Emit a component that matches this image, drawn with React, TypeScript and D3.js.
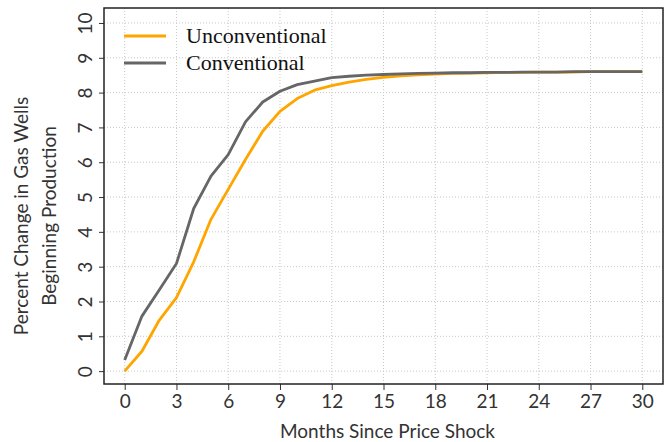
import React, { useEffect, useRef } from 'react';
import * as d3 from 'd3';

const months = [0, 1, 2, 3, 4, 5, 6, 7, 8, 9, 10, 11, 12, 13, 14, 15, 16, 17, 18, 19, 20, 21, 22, 23, 24, 25, 26, 27, 28, 29, 30];
const unconventional = [0, 0.57, 1.46, 2.11, 3.14, 4.36, 5.22, 6.08, 6.89, 7.46, 7.83, 8.07, 8.2, 8.3, 8.38, 8.44, 8.48, 8.51, 8.53, 8.55, 8.56, 8.57, 8.58, 8.58, 8.59, 8.59, 8.59, 8.6, 8.6, 8.6, 8.6];
const conventional = [0.32, 1.58, 2.33, 3.09, 4.67, 5.6, 6.22, 7.16, 7.73, 8.04, 8.23, 8.33, 8.43, 8.47, 8.5, 8.52, 8.54, 8.55, 8.56, 8.57, 8.57, 8.58, 8.58, 8.59, 8.59, 8.59, 8.6, 8.6, 8.6, 8.6, 8.6];
const xTicks = [0, 3, 6, 9, 12, 15, 18, 21, 24, 27, 30];
const yTicks = [0, 1, 2, 3, 4, 5, 6, 7, 8, 9, 10];
const seriesNames = ['Unconventional', 'Conventional'];
const seriesColors = ['#FFA500', '#666666'];

const App = () => {
  const ref = useRef<SVGSVGElement>(null);

  useEffect(() => {
    const svg = d3.select(ref.current);
    svg.selectAll('*').remove();

    const left = 104, right = 663, top = 8, bottom = 384;
    const sans = 'Lato, "Open Sans", sans-serif';

    const x = d3.scaleLinear().domain([-1.2, 31.2]).range([left, right]);
    const y = d3.scaleLinear().domain([-0.37, 10.43]).range([bottom, top]);

    // grid
    const grid = svg.append('g').attr('stroke', '#c8c8c8').attr('stroke-width', 1).attr('stroke-dasharray', '1,2');
    grid.selectAll('line.v').data(xTicks).enter().append('line')
      .attr('x1', d => x(d)).attr('x2', d => x(d)).attr('y1', top).attr('y2', bottom);
    grid.selectAll('line.h').data(yTicks).enter().append('line')
      .attr('x1', left).attr('x2', right).attr('y1', d => y(d)).attr('y2', d => y(d));

    // axes
    const xAxis = svg.append('g')
      .attr('transform', `translate(0,${bottom})`)
      .call(d3.axisBottom(x).tickValues(xTicks).tickSize(6).tickSizeOuter(0).tickPadding(5));
    xAxis.select('.domain').remove();
    xAxis.selectAll('line').attr('stroke', '#333');
    xAxis.selectAll('text').attr('font-family', sans).attr('font-size', 19).attr('fill', '#333');

    const yAxis = svg.append('g')
      .attr('transform', `translate(${left},0)`)
      .call(d3.axisLeft(y).tickValues(yTicks).tickSize(5).tickSizeOuter(0));
    yAxis.select('.domain').remove();
    yAxis.selectAll('line').attr('stroke', '#333');
    yAxis.selectAll('text')
      .attr('font-family', sans).attr('font-size', 19).attr('fill', '#333')
      .attr('text-anchor', 'middle').attr('dy', 0)
      .attr('x', 0).attr('y', 0)
      .attr('transform', 'translate(-12,0) rotate(-90)');

    // frame
    svg.append('rect')
      .attr('x', left).attr('y', top).attr('width', right - left).attr('height', bottom - top)
      .attr('fill', 'none').attr('stroke', '#222').attr('stroke-width', 1.5);

    // lines
    const line = d3.line<number>()
      .x((d, i) => x(months[i]))
      .y(d => y(d));
    [unconventional, conventional].forEach((s, i) => {
      svg.append('path')
        .datum(s)
        .attr('fill', 'none')
        .attr('stroke', seriesColors[i])
        .attr('stroke-width', 2.8)
        .attr('stroke-linejoin', 'round')
        .attr('d', line);
    });

    // legend
    seriesNames.forEach((name, i) => {
      const ly = 36 + i * 27;
      svg.append('line')
        .attr('x1', 124).attr('x2', 166).attr('y1', ly).attr('y2', ly)
        .attr('stroke', seriesColors[i]).attr('stroke-width', 2.8);
      svg.append('text')
        .attr('x', 186).attr('y', ly + 7)
        .attr('font-family', '"Liberation Serif", "Times New Roman", serif')
        .attr('font-size', 22).attr('fill', '#111')
        .text(name);
    });

    // axis titles
    svg.append('text')
      .attr('x', (left + right) / 2 + 4).attr('y', 438)
      .attr('text-anchor', 'middle')
      .attr('font-family', sans).attr('font-size', 19).attr('fill', '#333')
      .text('Months Since Price Shock');
    const yt = svg.append('text')
      .attr('transform', 'translate(0,216) rotate(-90)')
      .attr('text-anchor', 'middle')
      .attr('font-family', sans).attr('font-size', 19).attr('fill', '#333');
    yt.append('tspan').attr('x', 0).attr('y', 28).text('Percent Change in Gas Wells');
    yt.append('tspan').attr('x', 0).attr('y', 56).text('Beginning Production');
  }, []);

  return (
    <svg ref={ref} width={665} height={442} style={{ position: 'absolute', left: 0, top: 0, background: '#fff' }}></svg>
  );
};

export default App;
